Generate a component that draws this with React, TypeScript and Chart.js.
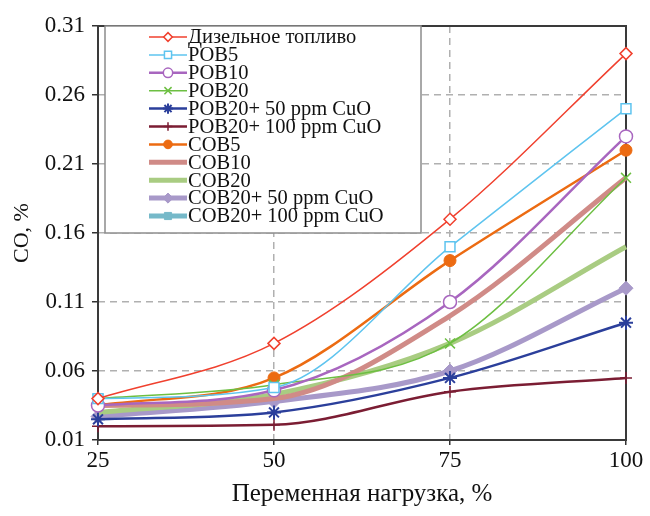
import React, { useEffect, useRef } from 'react';
import { Chart, registerables } from 'chart.js';
import { drawPoint } from 'chart.js/helpers';

Chart.register(...registerables);

// ---- data ----
const loads = [25, 50, 75, 100];
const yTickValues = [0.01, 0.06, 0.11, 0.16, 0.21, 0.26, 0.31];
const xTitle = 'Переменная нагрузка, %';
const yTitle = 'CO, %';

const seriesNames = [
  'Дизельное топливо',
  'POB5',
  'POB10',
  'POB20',
  'POB20+ 50 ppm CuO',
  'POB20+ 100 ppm CuO',
  'COB5',
  'COB10',
  'COB20',
  'COB20+ 50 ppm CuO',
  'COB20+ 100 ppm CuO',
];

const diesel = [0.04, 0.08, 0.17, 0.29];
const pob5 = [0.04, 0.048, 0.15, 0.25];
const pob10 = [0.035, 0.046, 0.11, 0.23];
const pob20 = [0.04, 0.05, 0.08, 0.2];
const pob20cuo50 = [0.025, 0.03, 0.055, 0.095];
const pob20cuo100 = [0.02, 0.021, 0.045, 0.055];
const cob5 = [0.035, 0.055, 0.14, 0.22];
const cob10 = [0.035, 0.04, 0.1, 0.2];
const cob20 = [0.03, 0.043, 0.08, 0.15];
const cob20cuo50 = [0.027, 0.038, 0.06, 0.12];
const cob20cuo100 = [0.04, null, null, null];

const seriesValues = [
  diesel, pob5, pob10, pob20, pob20cuo50, pob20cuo100,
  cob5, cob10, cob20, cob20cuo50, cob20cuo100,
];

// ---- styles ----
type Style = { color: string; width: number; point: any; radius: number; filled: boolean; pw: number };
const styles: Style[] = [
  { color: '#f0402e', width: 1.5, point: 'rectRot', radius: 6, filled: false, pw: 1.5 },
  { color: '#5ec4ef', width: 1.5, point: 'rect', radius: 7, filled: false, pw: 1.5 },
  { color: '#a866bf', width: 2.5, point: 'circle', radius: 6.5, filled: false, pw: 1.5 },
  { color: '#6dbf42', width: 1.5, point: 'crossRot', radius: 7, filled: false, pw: 1.5 },
  { color: '#2b3f9b', width: 2.5, point: 'star', radius: 7, filled: false, pw: 2 },
  { color: '#7b1d33', width: 2.5, point: 'cross', radius: 6, filled: false, pw: 1.5 },
  { color: '#ec6b12', width: 2.5, point: 'circle', radius: 6, filled: true, pw: 1 },
  { color: '#d08b87', width: 5, point: 'circle', radius: 0, filled: true, pw: 0 },
  { color: '#a9cc82', width: 5, point: 'circle', radius: 0, filled: true, pw: 0 },
  { color: '#a899c9', width: 5, point: 'rectRot', radius: 7, filled: true, pw: 1 },
  { color: '#76b9c9', width: 5, point: 'rect', radius: 7, filled: true, pw: 1 },
];

const FONT = "'Liberation Serif', 'Times New Roman', serif";

const framePlugin = {
  id: 'frame',
  beforeDatasetsDraw(chart: any) {
    const { ctx, chartArea: a } = chart;
    ctx.save();
    ctx.strokeStyle = '#3a3a3a';
    ctx.lineWidth = 2;
    ctx.setLineDash([]);
    ctx.strokeRect(a.left, a.top, a.right - a.left, a.bottom - a.top);
    ctx.restore();
  },
};

const legendPlugin = {
  id: 'boxLegend',
  afterDatasetsDraw(chart: any) {
    const { ctx, chartArea: a } = chart;
    const x0 = a.left + 7;
    const y0 = a.top;
    const w = 316;
    const h = 207;
    ctx.save();
    ctx.fillStyle = '#ffffff';
    ctx.fillRect(x0, y0, w, h);
    ctx.strokeStyle = '#8c8c8c';
    ctx.lineWidth = 1.5;
    ctx.strokeRect(x0, y0, w, h);
    const step = 17.9;
    chart.data.datasets.forEach((ds: any, i: number) => {
      const st = styles[i];
      const cy = y0 + 11 + i * step;
      const lx1 = x0 + 44;
      const lx2 = x0 + 82;
      ctx.strokeStyle = st.color;
      ctx.lineWidth = st.width;
      ctx.setLineDash([]);
      ctx.beginPath();
      ctx.moveTo(lx1, cy);
      ctx.lineTo(lx2, cy);
      ctx.stroke();
      if (st.radius > 0) {
        ctx.fillStyle = st.filled ? st.color : '#ffffff';
        ctx.strokeStyle = st.color;
        ctx.lineWidth = st.pw;
        drawPoint(ctx, { pointStyle: st.point, rotation: 0, radius: st.radius * 0.72, borderWidth: st.pw }, (lx1 + lx2) / 2, cy);
      }
      ctx.fillStyle = '#111';
      ctx.font = `20.5px ${FONT}`;
      ctx.textBaseline = 'middle';
      ctx.textAlign = 'left';
      ctx.fillText(ds.label, lx2 + 1, cy + 1);
    });
    ctx.restore();
  },
};

export default function App() {
  const ref = useRef<HTMLCanvasElement | null>(null);
  useEffect(() => {
    if (!ref.current) return;
    const datasets = seriesNames.map((name, i) => {
      const st = styles[i];
      return {
        label: name,
        data: loads.map((x, j) => ({ x, y: seriesValues[i][j] })),
        borderColor: st.color,
        backgroundColor: st.color,
        borderWidth: st.width,
        pointStyle: st.point,
        pointRadius: st.radius,
        pointBorderWidth: st.pw,
        pointBorderColor: st.color,
        pointBackgroundColor: st.filled ? st.color : '#ffffff',
        cubicInterpolationMode: 'monotone' as any,
        tension: 0.4,
        clip: false as any,
        borderCapStyle: 'butt' as any,
      };
    });
    const chart = new Chart(ref.current, {
      type: 'line',
      data: { datasets },
      options: {
        animation: false,
        responsive: true,
        maintainAspectRatio: false,
        devicePixelRatio: 1,
        layout: { padding: { left: 0, right: 24, top: 26, bottom: 0 } },
        plugins: { legend: { display: false }, tooltip: { enabled: false } },
        scales: {
          x: {
            type: 'linear',
            min: 25,
            max: 100,
            ticks: { stepSize: 25, color: '#111', font: { family: FONT, size: 23 }, padding: 2, maxRotation: 0 },
            grid: {
              color: '#b0b0b0',
              lineWidth: 1.5,
              drawTicks: true,
              tickLength: 5,
              tickColor: '#333',
              tickWidth: 1.5,
              tickBorderDash: [],
            } as any,
            border: { display: false, dash: [7, 5] },
            title: { display: true, text: xTitle, color: '#111', font: { family: FONT, size: 25 }, padding: { top: 0, bottom: 7 } },
            afterFit: (s: any) => { s.height = 76; },
          },
          y: {
            type: 'linear',
            min: 0.01,
            max: 0.31,
            afterBuildTicks: (s: any) => { s.ticks = yTickValues.map((v) => ({ value: v })); },
            ticks: {
              color: '#111',
              font: { family: FONT, size: 23 },
              padding: 7,
              callback: (v: any) => Number(v).toFixed(2),
            },
            grid: {
              color: '#b0b0b0',
              lineWidth: 1.5,
              drawTicks: true,
              tickLength: 6,
              tickColor: '#333',
              tickWidth: 1.5,
              tickBorderDash: [],
            } as any,
            border: { display: false, dash: [7, 5] },
            title: { display: true, text: yTitle, color: '#111', font: { family: FONT, size: 22 }, padding: { top: 9, bottom: 0 } },
            afterFit: (s: any) => { s.width = 98; },
          },
        },
      },
      plugins: [framePlugin, legendPlugin],
    });
    return () => chart.destroy();
  }, []);
  return (
    <div style={{ position: 'fixed', left: 0, top: 0, width: 650, height: 516, background: '#fff' }}>
      <canvas ref={ref} />
    </div>
  );
}
